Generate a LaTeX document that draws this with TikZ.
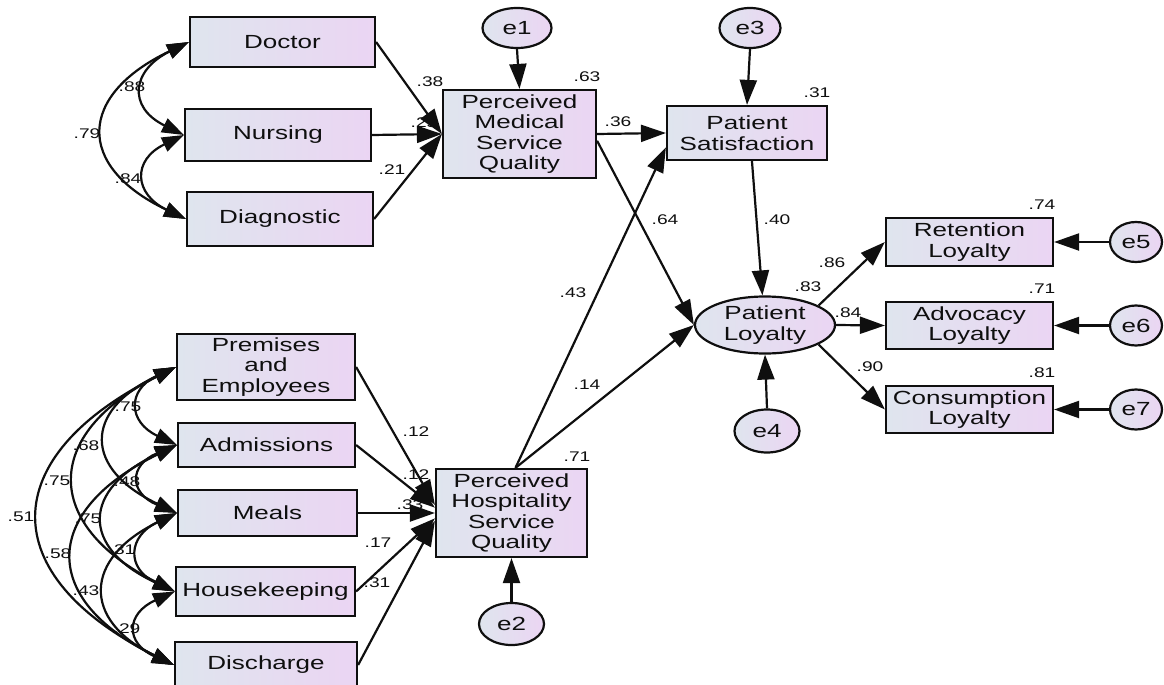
\documentclass[tikz,border=0pt]{standalone}
\usepackage{fontspec}
\setmainfont[FakeStretch=1.37]{Liberation Sans}
\usetikzlibrary{shapes.geometric,arrows.meta}
\definecolor{boxL}{RGB}{223,229,238}
\definecolor{boxR}{RGB}{235,213,243}
\definecolor{inkc}{RGB}{15,15,15}
\newcommand{\labfont}{\fontsize{19}{20.5}\selectfont}
\newcommand{\coeffont}{\fontsize{14}{16}\selectfont}
\tikzset{
  box/.style={draw=inkc, line width=2.2pt, rectangle, left color=boxL, right color=boxR,
    inner sep=0pt, align=center, font=\labfont, text=inkc},
  errc/.style={draw=inkc, line width=2.2pt, ellipse, left color=boxL, right color=boxR,
    inner sep=0pt, align=center, font=\labfont, text=inkc},
  reg/.style={draw=inkc, line width=2.2pt, -{Triangle[length=25pt,width=17pt]}},
  cov/.style={draw=inkc, line width=2.2pt, {Triangle[length=22pt,width=15pt]}-{Triangle[length=22pt,width=15pt]}},
  coef/.style={font=\coeffont, inner sep=0pt, text=inkc},
}
\begin{document}
\begin{tikzpicture}[x=1pt,y=-1pt]
\useasboundingbox (0,0) rectangle (1164,685);

% ---------- nodes ----------
\node[box, minimum width=185pt, minimum height=50pt] (doc) at (282.5,42) {Doctor};
\node[box, minimum width=186pt, minimum height=52pt] (nur) at (278,135) {Nursing};
\node[box, minimum width=186pt, minimum height=54pt] (dia) at (280,219) {Diagnostic};
\node[box, minimum width=153pt, minimum height=88pt] (pmsq) at (519.5,134) {Perceived\\Medical\\Service\\Quality};
\node[box, minimum width=160pt, minimum height=54pt] (ps) at (747,133) {Patient\\Satisfaction};
\node[errc, minimum width=69pt, minimum height=40pt] (e1) at (517,28) {e1};
\node[errc, minimum width=61pt, minimum height=40pt] (e3) at (750,28) {e3};
\node[errc, minimum width=140pt, minimum height=57pt] (pl) at (765,325) {Patient\\Loyalty};
\node[errc, minimum width=65pt, minimum height=43pt] (e4) at (767,431) {e4};
\node[box, minimum width=167pt, minimum height=48pt] (ret) at (969.5,242) {Retention\\Loyalty};
\node[box, minimum width=167pt, minimum height=47pt] (adv) at (969.5,325.5) {Advocacy\\Loyalty};
\node[box, minimum width=167pt, minimum height=47pt] (con) at (969.5,409.5) {Consumption\\Loyalty};
\node[errc, minimum width=52pt, minimum height=40pt] (e5) at (1136,242) {e5};
\node[errc, minimum width=52pt, minimum height=40pt] (e6) at (1136,325.5) {e6};
\node[errc, minimum width=52pt, minimum height=40pt] (e7) at (1136,409.5) {e7};

\node[box, minimum width=178pt, minimum height=66pt] (pre) at (266,367) {Premises\\and\\Employees};
\node[box, minimum width=177pt, minimum height=44pt] (adm) at (266.5,445) {Admissions};
\node[box, minimum width=179pt, minimum height=46pt] (mea) at (267.5,513) {Meals};
\node[box, minimum width=179pt, minimum height=49pt] (hou) at (265.5,591.5) {Housekeeping};
\node[box, minimum width=182pt, minimum height=46pt] (dis) at (266,665) {Discharge};
\node[box, minimum width=151pt, minimum height=88pt] (phsq) at (511.5,513) {Perceived\\Hospitality\\Service\\Quality};
\node[errc, minimum width=65pt, minimum height=42pt] (e2) at (511.5,624) {e2};

% ---------- coefficients ----------
\node[coef] (c1) at (430,82) {.38};
\node[coef] (c2) at (424,123) {.25};
\node[coef] (c3) at (392,170) {.21};
\node[coef] (c4) at (132,87) {.88};
\node[coef] (c5) at (87,134) {.79};
\node[coef] (c6) at (128,179) {.84};
\node[coef] (c7) at (587,77) {.63};
\node[coef] (c8) at (817,93) {.31};
\node[coef] (c9) at (618,122) {.36};
\node[coef] (c10) at (665,220) {.64};
\node[coef] (c11) at (777,220) {.40};
\node[coef] (c12) at (573,293) {.43};
\node[coef] (c13) at (587,385) {.14};
\node[coef] (c14) at (1042,205) {.74};
\node[coef] (c15) at (1042,289) {.71};
\node[coef] (c16) at (1042,373) {.81};
\node[coef] (c17) at (832,263) {.86};
\node[coef] (c18) at (808,287) {.83};
\node[coef] (c19) at (848,313) {.84};
\node[coef] (c20) at (870,367) {.90};
\node[coef] (c21) at (577,457) {.71};
\node[coef] (c22) at (416,432) {.12};
\node[coef] (c23) at (416,475) {.12};
\node[coef] (c24) at (410,505) {.33};
\node[coef] (c25) at (378,543) {.17};
\node[coef] (c26) at (377,583) {.31};
\node[coef] (c27) at (128,407) {.75};
\node[coef] (c28) at (86,446) {.68};
\node[coef] (c29) at (57,481) {.75};
\node[coef] (c30) at (21,517) {.51};
\node[coef] (c31) at (127,482) {.48};
\node[coef] (c32) at (88,519) {.75};
\node[coef] (c33) at (58,554) {.58};
\node[coef] (c34) at (122,550) {.31};
\node[coef] (c35) at (86,591) {.43};
\node[coef] (c36) at (127,629) {.29};

% ---------- covariances ----------
\draw[cov] (doc.west) .. controls +(-57,28) and +(-57,-28) .. (nur.west);
\draw[cov] (nur.west) .. controls +(-52,25) and +(-52,-25) .. (dia.west);
\draw[cov] (doc.west) .. controls +(-111,53) and +(-111,-53) .. (dia.west);

\draw[cov] (pre.west) .. controls +(-49,23) and +(-49,-23) .. (adm.west);
\draw[cov] (adm.west) .. controls +(-48,20) and +(-48,-20) .. (mea.west);
\draw[cov] (mea.west) .. controls +(-49,23) and +(-49,-23) .. (hou.west);
\draw[cov] (hou.west) .. controls +(-49,22) and +(-49,-22) .. (dis.west);
\draw[cov] (pre.west) .. controls +(-93,44) and +(-93,-44) .. (mea.west);
\draw[cov] (adm.west) .. controls +(-95,44) and +(-95,-44) .. (hou.west);
\draw[cov] (mea.west) .. controls +(-93,45) and +(-93,-45) .. (dis.west);
\draw[cov] (pre.west) .. controls +(-133,67) and +(-133,-67) .. (hou.west);
\draw[cov] (adm.west) .. controls +(-135,66) and +(-135,-66) .. (dis.west);
\draw[cov] (pre.west) .. controls +(-180,90) and +(-180,-90) .. (dis.west);

% ---------- regressions ----------
\draw[reg] (doc.east) -- (pmsq.west);
\draw[reg] (nur.east) -- (pmsq.west);
\draw[reg] (dia.east) -- (pmsq.west);
\draw[reg] (e1.south) -- (pmsq.north);
\draw[reg] (e3.south) -- (ps.north);
\draw[reg] (pmsq.east) -- (ps.west);
\draw[reg] (pmsq.-5) -- (pl.west);
\draw[reg] (phsq.85) -- (ps.190);
\draw[reg] (phsq.85) -- (pl.west);
\draw[reg] (ps.-80) -- (pl.95);
\draw[reg] (e4.north) -- (pl.south);
\draw[reg] (pl.20) -- (ret.west);
\draw[reg] (pl.east) -- (adv.west);
\draw[reg] (pl.-20) -- (con.west);
\draw[reg] (e5.west) -- (ret.east);
\draw[reg] (e6.west) -- (adv.east);
\draw[reg] (e7.west) -- (con.east);

\draw[reg] (pre.east) -- (phsq.174);
\draw[reg] (adm.east) -- (phsq.176);
\draw[reg] (mea.east) -- (phsq.west);
\draw[reg] (hou.east) -- (phsq.184);
\draw[reg] (dis.east) -- (phsq.186);
\draw[reg] (e2.north) -- (phsq.south);
\end{tikzpicture}
\end{document}
